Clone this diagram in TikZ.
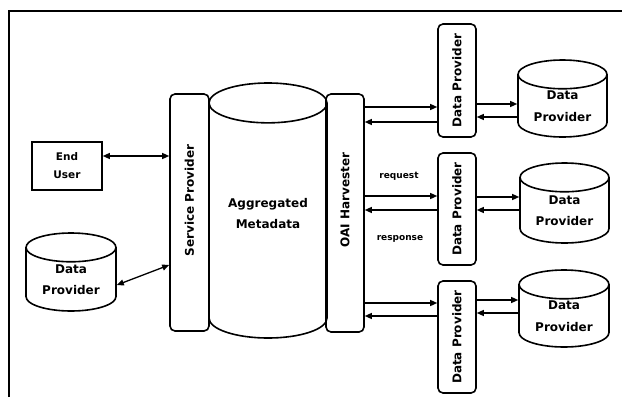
\documentclass[tikz,border=0pt]{standalone}
\usepackage{fontspec}
\setmainfont{DejaVu Sans}
\usetikzlibrary{shapes.geometric,arrows.meta}

\newcommand{\stacked}[3][-3pt]{\raisebox{#1}[0pt][0pt]{\begin{tabular}{@{}c@{}}#2\\#3\end{tabular}}}

\begin{document}
\begin{tikzpicture}[x=1pt, y=-1pt, font=\bfseries]
        \tikzstyle{box}=[rectangle, draw, line width=1.6pt, minimum width=70pt, minimum height=48pt, font=\bfseries\fontsize{10.5}{18}\selectfont]
        \tikzstyle{bar}=[rectangle, rounded corners=5pt, draw, line width=1.6pt, minimum width=38pt, inner sep=0pt, font=\bfseries\fontsize{12}{14}\selectfont]
        \tikzstyle{store}=[cylinder, shape border rotate=90, aspect=0.5, anchor=shape center, draw, line width=1.6pt, inner sep=0pt, font=\bfseries\fontsize{12}{21.5}\selectfont]
        \tikzstyle{link}=[line width=1.3pt, -{Triangle[length=7pt, width=6pt]}]
        \tikzstyle{both}=[link, {Triangle[length=7pt, width=6pt]}-{Triangle[length=7pt, width=6pt]}]
        \tikzstyle{tag}=[font=\bfseries\fontsize{9}{10}\selectfont]

        \useasboundingbox (0,0) rectangle (622,397);
        % \draw (0,0) grid (622,397);
        \draw[line width=1.6pt] (9,397) -- (9,11) -- (622,11);

        \node[box] (user) at (67,166) {\stacked{End}{User}};
        \node[store, minimum width=90pt, minimum height=78pt] (db0) at (71,272) {\stacked{Data}{Provider}};
        \node[bar, minimum width=39pt, minimum height=237pt] (sp) at (189.5,212.5) {\rotatebox{90}{\hspace*{24pt}Service Provider}};
        \node[store, minimum width=118pt, minimum height=255pt] (meta) at (268,210.5) {\stacked[4pt]{Aggregated}{Metadata}};
        \node[bar, minimum height=238pt] (hv) at (345,213) {\rotatebox{90}{\hspace*{26pt}OAI Harvester}};

        \node[bar, minimum height=113pt] (dp1) at (457,80.5) {\rotatebox{90}{Data Provider}};
        \node[bar, minimum height=112pt] (dp2) at (457,209) {\rotatebox{90}{Data Provider}};
        \node[bar, minimum height=112pt] (dp3) at (457,337) {\rotatebox{90}{Data Provider}};
        \node[store, minimum width=89pt, minimum height=77pt] (db1) at (562.5,98.5) {\stacked{Data}{Provider}};
        \node[store, minimum width=89pt, minimum height=80pt] (db2) at (564.5,203) {\stacked{Data}{Provider}};
        \node[store, minimum width=90pt, minimum height=77pt] (db3) at (564,308.5) {\stacked{Data}{Provider}};

        \draw[both] ([yshift=10pt]user.east) -- ([yshift=10pt]user.east -| sp.west);
        \draw[both] (db0.east |- 0,285) -- (sp.west |- 0,265);

        \foreach \n/\a/\b/\c/\d in {1/107/122/104/117, 2/196/210/197/210, 3/303/316/300/313} {
            \draw[link] (hv.east |- 0,\a) -- (dp\n.west |- 0,\a);
            \draw[link] (dp\n.west |- 0,\b) -- (hv.east |- 0,\b);
            \draw[link] (dp\n.east |- 0,\c) -- (db\n.west |- 0,\c);
            \draw[link] (db\n.west |- 0,\d) -- (dp\n.east |- 0,\d);
        }

        \node[tag] (req) at (399,176) {request};
        \node[tag] (resp) at (400,239) {response};
    \end{tikzpicture}
\end{document}
